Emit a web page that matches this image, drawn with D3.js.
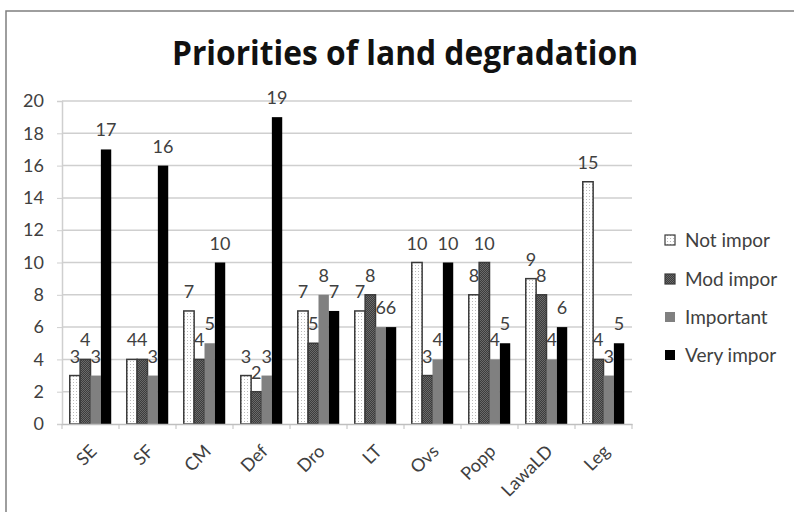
<!DOCTYPE html>
<html><head><meta charset="utf-8">
<script src="https://cdn.jsdelivr.net/npm/d3@7"></script>
<style>body{margin:0;background:#fff}svg{display:block}</style>
</head><body>
<svg id="c" width="794" height="512"></svg>
<script>
const categories = ["SE","SF","CM","Def","Dro","LT","Ovs","Popp","LawaLD","Leg"];
const seriesNames = ["Not impor","Mod impor","Important","Very impor"];
const notImpor  = [3,4,7,3,7,7,10,8,9,15];
const modImpor  = [4,4,4,2,5,8,3,10,8,4];
const important = [3,3,5,3,8,6,4,4,4,3];
const veryImpor = [17,16,10,19,7,6,10,5,6,5];
const yTicks = [0,2,4,6,8,10,12,14,16,18,20];
const chartTitle = "Priorities of land degradation";

(function(){
const values = [notImpor, modImpor, important, veryImpor];
const fills = ["url(#pDots)","url(#pCheck)","#808080","#000"];
const strokes = ["#3a3a3a","#3a3a3a","none","none"];

const svg = d3.select("#c");
const defs = svg.append("defs");
const pd = defs.append("pattern").attr("id","pDots").attr("patternUnits","userSpaceOnUse").attr("width",3).attr("height",3);
pd.append("rect").attr("width",3).attr("height",3).attr("fill","#fff");
pd.append("rect").attr("x",1).attr("y",1).attr("width",1).attr("height",1).attr("fill","#bbb");
const pc = defs.append("pattern").attr("id","pCheck").attr("patternUnits","userSpaceOnUse").attr("width",2).attr("height",2);
pc.append("rect").attr("width",2).attr("height",2).attr("fill","#3c3c3c");
pc.append("rect").attr("width",1).attr("height",1).attr("fill","#6a6a6a");
pc.append("rect").attr("x",1).attr("y",1).attr("width",1).attr("height",1).attr("fill","#6a6a6a");

// frame
svg.append("rect").attr("x",6).attr("y",11).attr("width",800).attr("height",520)
  .attr("fill","#fff").attr("stroke","#7f7f7f").attr("stroke-width",1.5);

const font = "Lato, 'Open Sans', sans-serif";
const pl = 62, pr = 632, pt = 101, pb = 424;

const x = d3.scaleBand().domain(categories).range([pl,pr]).paddingInner(0).paddingOuter(0);
const bw = x.bandwidth()/5.5;
const xs = d3.scaleBand().domain(d3.range(4)).range([0.75*bw, 4.75*bw]);
const y = d3.scaleLinear().domain([0,20]).range([pb,pt]);

// title
const t = svg.append("text").attr("x",405).attr("y",65).attr("text-anchor","middle")
  .attr("font-family","'Open Sans', sans-serif").attr("font-weight","bold").attr("font-size",34)
  .attr("fill","#111").text(chartTitle);
t.attr("textLength",466).attr("lengthAdjust","spacingAndGlyphs");

// gridlines
svg.append("g").selectAll("line").data(yTicks.filter(d=>d>0)).join("line")
  .attr("x1",pl).attr("x2",pr).attr("y1",d=>y(d)).attr("y2",d=>y(d))
  .attr("stroke","#cfcfcf").attr("stroke-width",1.5);

// y axis
const ya = svg.append("g").attr("transform",`translate(${pl},0)`)
  .call(d3.axisLeft(y).tickValues(yTicks).tickSize(5).tickPadding(13));
ya.select(".domain").attr("stroke","#cfcfcf").attr("stroke-width",1.5);
ya.selectAll(".tick line").attr("stroke","#cfcfcf");
ya.selectAll("text").attr("font-family",font).attr("font-size",18).attr("fill","#404040");

// bars
const g = svg.append("g");
categories.forEach((c,i)=>{
  values.forEach((arr,s)=>{
    const v = arr[i];
    g.append("rect").attr("x",x(c)+xs(s)).attr("y",y(v)).attr("width",xs.bandwidth())
      .attr("height",y(0)-y(v)).attr("fill",fills[s])
      .attr("stroke",strokes[s]).attr("stroke-width",1.5);
  });
});
// labels
categories.forEach((c,i)=>{
  values.forEach((arr,s)=>{
    const v = arr[i];
    g.append("text").attr("x",x(c)+xs(s)+xs.bandwidth()/2).attr("y",y(v)-13)
      .attr("text-anchor","middle").attr("font-family",font).attr("font-size",18)
      .attr("fill","#404040").text(v);
  });
});

// x axis
const xa = svg.append("g").attr("transform",`translate(0,${pb})`)
  .call(d3.axisBottom(x).tickSize(0).tickFormat(""));
xa.select(".domain").attr("stroke","#bfbfbf").attr("stroke-width",1.5);
svg.append("g").selectAll("line").data(d3.range(categories.length+1)).join("line")
  .attr("x1",d=>pl+d*x.bandwidth()).attr("x2",d=>pl+d*x.bandwidth())
  .attr("y1",pb).attr("y2",pb+5).attr("stroke","#bfbfbf");
svg.append("g").selectAll("text").data(categories).join("text")
  .attr("transform",d=>`translate(${x(d)+x.bandwidth()/2+3},${pb+24}) rotate(-45)`)
  .attr("text-anchor","end").attr("dy","0.35em").attr("font-family",font).attr("font-size",18)
  .attr("fill","#404040").text(d=>d);

// legend
const lg = svg.append("g");
const ly = [240,279,317,355];
seriesNames.forEach((n,s)=>{
  lg.append("rect").attr("x",665).attr("y",ly[s]-5).attr("width",10).attr("height",10)
    .attr("fill",fills[s]).attr("stroke",s<2?"#3a3a3a":"none").attr("stroke-width",1.2);
  lg.append("text").attr("x",685).attr("y",ly[s]).attr("dy","0.35em")
    .attr("font-family",font).attr("font-size",19).attr("fill","#404040").text(n);
});
})();
</script>
</body></html>
